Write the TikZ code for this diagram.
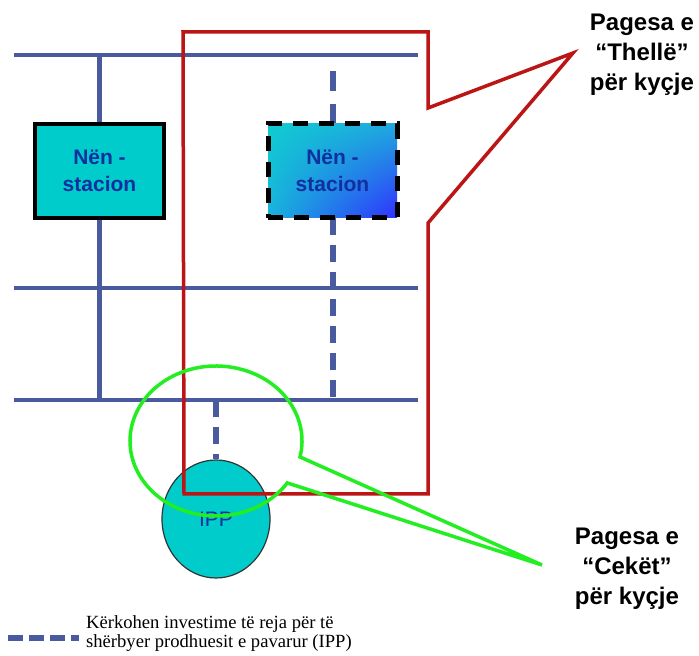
\documentclass[tikz,border=0pt]{standalone}
\usepackage{fontspec}
\setmainfont{Liberation Serif}
\newfontfamily\arialfont{Liberation Sans}
\usetikzlibrary{shapes.geometric,shadings}
\definecolor{busblue}{HTML}{4A5A9E}
\definecolor{stcyan}{HTML}{00CCCC}
\definecolor{txtblue}{HTML}{1030A0}
\definecolor{redline}{HTML}{BB1515}
\definecolor{greenline}{HTML}{22EE22}
\definecolor{shUL}{HTML}{10CCD0}
\definecolor{shUR}{HTML}{20A8E0}
\definecolor{shLL}{HTML}{18B4DC}
\definecolor{shLR}{HTML}{3030FF}
\begin{document}
\begin{tikzpicture}[x=1pt,y=1pt,
  bus/.style={draw=busblue, line width=4.5pt},
  busdash/.style={draw=busblue, line width=6pt, dash pattern=on 17pt off 10pt},
  station/.style={minimum width=129pt, minimum height=94pt, inner sep=0pt,
    font=\arialfont\bfseries\fontsize{21}{27}\selectfont, text=txtblue, align=center},
  callouttext/.style={font=\arialfont\bfseries\fontsize{24}{30}\selectfont, align=center, text=black, inner sep=0pt}]
\useasboundingbox (0,0) rectangle (699,656);
\fill[white] (0,0) rectangle (699,656);
% bus lines
\coordinate (b1w) at (14,601); \coordinate (b1e) at (418,601);
\coordinate (b2w) at (14,368); \coordinate (b2e) at (418,368);
\coordinate (b3w) at (14,256); \coordinate (b3e) at (418,256);
\draw[bus] (b1w) -- (b1e);
\draw[bus] (b2w) -- (b2e);
\draw[bus] (b3w) -- (b3e);
% dashed feeder to new substation
\coordinate (d1top) at (332.5,585);
\path (332.5,485) coordinate (s2c);
\draw[busdash, dash pattern=on 20pt off 13pt] (d1top) -- (332.5,532);
\draw[busdash] (332.5,438) -- (332.5,256);
% substations
\node[station, fill=stcyan, draw=black, line width=3.5pt] (s1) at (99.5,485) {Nën -\\stacion};
\node[station, draw=black, line width=5pt, dash pattern=on 15pt off 11pt, shade,
  upper left=shUL, upper right=shUR, lower left=shLL, lower right=shLR] (s2) at (s2c) {Nën -\\stacion};
\draw[bus] (s1.north |- b1w) -- (s1.north);
\draw[bus] (s1.south) -- (s1.south |- b3w);
% IPP
\node[ellipse, draw=black!80, line width=1.2pt, fill=stcyan, minimum width=108pt, minimum height=118pt,
  inner sep=0pt, text=txtblue, font=\arialfont\fontsize{21}{24}\selectfont] (ipp) at (216,137) {\raisebox{-3pt}{IPP}};
\draw[busdash] (ipp.north |- b3w) -- (ipp.north);
% red callout (deep)
\draw[redline, line width=3.5pt, line join=miter]
  (183,624) -- (428,624) -- (428,548) -- (573,603) coordinate (rtip) -- (428,433) -- (428,162) -- (184,162) -- cycle;
% green callout (shallow)
\draw[greenline, line width=3.5pt, line join=miter]
  (216,215) ++(-12.3:86 and 75) arc[start angle=-12.3, end angle=326, x radius=86, y radius=75]
  -- (542,91) coordinate (gtip) -- cycle;
% callout texts
\node[callouttext] (deep) at (642,601) {Pagesa e\\“Thellë”\\për kyçje};
\node[callouttext] (shallow) at (627,87) {Pagesa e\\“Cekët”\\për kyçje};
% legend
\coordinate (lg1) at (8,18); \coordinate (lg2) at (79,18);
\draw[draw=busblue, line width=6pt, dash pattern=on 15pt off 6pt] (lg1) -- (lg2);
\node[anchor=west, align=left, font=\fontsize{18.6}{19}\selectfont, inner sep=0pt] (legend) at (86,22)
  {Kërkohen investime të reja për të\\shërbyer prodhuesit e pavarur (IPP)};
\end{tikzpicture}
\end{document}
